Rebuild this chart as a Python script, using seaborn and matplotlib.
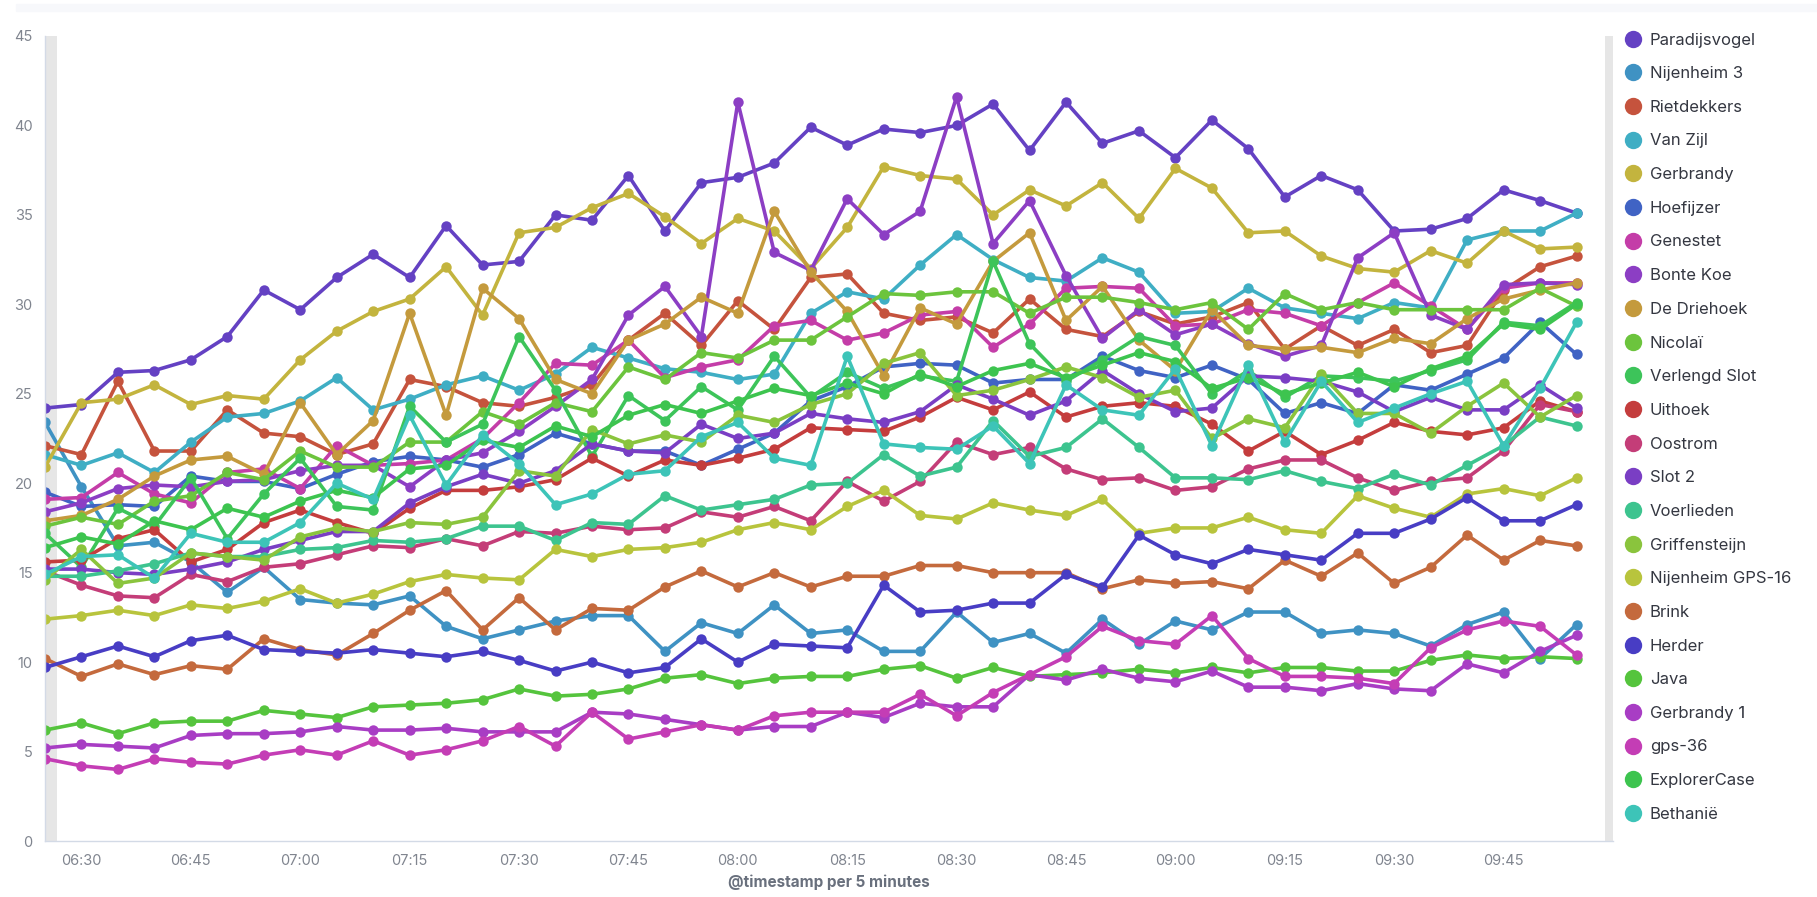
import numpy as np
import pandas as pd
import matplotlib
matplotlib.use("Agg")
import matplotlib.pyplot as plt
import matplotlib.dates as mdates
from matplotlib.lines import Line2D
from matplotlib.patches import Rectangle
import seaborn as sns

sns.set_theme(style="white")
plt.rcParams["font.family"] = ["Inter", "DejaVu Sans"]

# ---------------- data ----------------
start_time = "2021-01-01 06:25"
n_points = 43  # 06:25 .. 09:55, 5-minute buckets

names = ["Paradijsvogel", "Nijenheim 3", "Rietdekkers", "Van Zijl", "Gerbrandy",
         "Hoefijzer", "Genestet", "Bonte Koe", "De Driehoek", "Nicolaï",
         "Verlengd Slot", "Uithoek", "Oostrom", "Slot 2", "Voerlieden",
         "Griffensteijn", "Nijenheim GPS-16", "Brink", "Herder", "Java",
         "Gerbrandy 1", "gps-36", "ExplorerCase", "Bethanië"]

colors = ["#6441C3", "#3F92C3", "#C5533D", "#3FAEC4", "#C3B43E",
          "#4063C4", "#C43DA8", "#8C3EC4", "#C49A3D", "#6CC43D",
          "#3DC45A", "#C43D3D", "#C43D78", "#7A3EC4", "#3DC48F",
          "#8AC43D", "#B8C43D", "#C46A3D", "#483DC4", "#55C43D",
          "#A83DC4", "#C43DB5", "#3DC44F", "#3DC4B8"]

paradijsvogel = [24.2,24.4,26.2,26.3,26.9,28.2,30.8,29.7,31.5,32.8,31.5,34.4,32.2,32.4,35.0,34.7,37.2,34.1,36.8,37.1,
                 37.9,39.9,38.9,39.8,39.6,40.0,41.2,38.6,41.3,39.0,39.7,38.2,40.3,38.7,36.0,37.2,36.4,34.1,34.2,34.8,
                 36.4,35.8,35.1]
nijenheim_3 = [23.4,19.8,16.5,16.7,15.6,13.9,15.3,13.5,13.3,13.2,13.7,12.0,11.3,11.8,12.3,12.6,12.6,10.6,12.2,11.6,
               13.2,11.6,11.8,10.6,10.6,12.8,11.1,11.6,10.5,12.4,11.0,12.3,11.8,12.8,12.8,11.6,11.8,11.6,10.9,12.1,
               12.8,10.2,12.1]
rietdekkers = [22.1,21.6,25.7,21.8,21.8,24.1,22.8,22.6,21.6,22.2,25.8,25.4,24.5,24.3,24.8,25.5,28.0,29.5,27.7,30.2,
               28.6,31.5,31.7,29.5,29.1,29.3,28.4,30.3,28.6,28.2,29.6,28.9,29.3,30.1,27.5,28.8,27.7,28.6,27.3,27.7,
               30.8,32.1,32.7]
van_zijl = [21.6,21.0,21.7,20.6,22.3,23.7,23.9,24.6,25.9,24.1,24.7,25.5,26.0,25.2,26.1,27.6,27.0,26.4,26.2,25.8,
            26.1,29.5,30.7,30.3,32.2,33.9,32.5,31.5,31.3,32.6,31.8,29.5,29.6,30.9,29.8,29.5,29.2,30.1,29.8,33.6,
            34.1,34.1,35.1]
gerbrandy = [20.9,24.5,24.7,25.5,24.4,24.9,24.7,26.9,28.5,29.6,30.3,32.1,29.4,34.0,34.3,35.4,36.2,34.9,33.4,34.8,
             34.1,32.0,34.3,37.7,37.2,37.0,35.0,36.4,35.5,36.8,34.8,37.6,36.5,34.0,34.1,32.7,32.0,31.8,33.0,32.3,
             34.1,33.1,33.2]
hoefijzer = [19.5,18.7,18.8,18.7,20.4,20.1,20.1,19.7,20.5,21.2,21.5,21.3,20.9,21.6,22.8,22.2,21.8,21.8,21.0,21.9,
             22.8,24.6,25.4,26.5,26.7,26.6,25.6,25.8,25.8,27.1,26.3,25.9,26.6,25.8,23.9,24.5,23.9,25.5,25.2,26.1,
             27.0,29.0,27.2]
genestet = [19.1,19.2,20.6,19.4,18.9,20.6,20.8,19.7,22.1,21.0,21.1,21.3,22.5,24.5,26.7,26.6,28.0,25.9,26.5,26.9,
            28.8,29.1,28.0,28.4,29.4,29.6,27.6,28.9,30.9,31.0,30.9,28.8,28.9,29.7,29.5,28.8,30.1,31.2,29.9,28.6,
            30.9,31.2,31.2]
bonte_koe = [18.4,18.9,19.7,19.9,19.8,20.1,20.2,20.7,21.0,21.0,19.8,21.3,21.7,22.9,24.3,25.8,29.4,31.0,28.2,41.3,
             32.9,31.9,35.9,33.9,35.2,41.6,33.4,35.8,31.6,28.1,29.7,28.3,28.9,27.8,27.1,27.7,32.6,34.0,29.4,28.6,
             31.1,31.2,31.1]
de_driehoek = [17.9,18.2,19.1,20.4,21.3,21.5,20.5,24.5,21.6,23.5,29.5,23.8,30.9,29.2,25.8,25.0,28.0,28.9,30.4,29.5,
               35.2,31.8,29.6,26.0,29.8,28.9,32.4,34.0,29.1,31.0,28.0,26.3,29.7,27.7,27.5,27.6,27.3,28.1,27.8,29.2,
               30.3,30.8,31.2]
nicolai = [17.6,18.1,17.7,19.0,19.3,20.6,20.2,21.8,20.9,20.9,22.3,22.3,24.0,23.3,24.5,24.0,26.5,25.8,27.3,27.0,
           28.0,28.0,29.3,30.6,30.5,30.7,30.7,29.5,30.4,30.4,30.1,29.7,30.1,28.6,30.6,29.7,30.1,29.7,29.7,29.7,
           29.7,30.9,29.9]
verlengd_slot = [17.2,15.3,18.6,17.6,20.3,16.9,19.4,21.4,18.7,18.5,24.3,22.3,23.3,28.2,25.2,21.5,24.9,23.5,25.4,24.1,
                 27.1,24.8,26.2,25.3,26.0,25.7,32.4,27.8,25.7,26.9,28.2,27.7,25.0,26.3,24.8,26.0,25.9,25.7,26.3,26.9,
                 29.0,28.8,30.1]
uithoek = [15.6,15.7,16.9,17.4,15.6,16.3,17.8,18.5,17.8,17.2,18.6,19.6,19.6,19.8,20.2,21.4,20.4,21.3,21.0,21.4,
           21.9,23.1,23.0,22.9,23.7,24.8,24.1,25.1,23.7,24.3,24.5,24.3,23.3,21.8,22.9,21.6,22.4,23.4,22.9,22.7,
           23.1,24.6,24.0]
oostrom = [15.1,14.3,13.7,13.6,14.9,14.5,15.3,15.5,16.0,16.5,16.4,16.9,16.5,17.3,17.2,17.6,17.4,17.5,18.4,18.1,
           18.7,17.9,20.1,19.0,20.1,22.3,21.6,22.0,20.8,20.2,20.3,19.6,19.8,20.8,21.3,21.3,20.3,19.6,20.1,20.3,
           21.8,24.4,24.0]
slot_2 = [15.2,15.2,15.0,14.9,15.2,15.6,16.3,16.8,17.3,17.3,18.9,19.8,20.5,20.0,20.7,22.2,21.8,21.7,23.3,22.5,
          22.8,23.9,23.6,23.4,24.0,25.5,24.7,23.8,24.6,26.3,25.0,24.0,24.2,26.0,25.9,25.7,25.1,24.0,24.8,24.1,
          24.1,25.5,24.2]
voerlieden = [14.8,14.8,15.1,15.5,16.1,15.9,15.9,16.3,16.4,16.8,16.7,16.9,17.6,17.6,16.8,17.8,17.7,19.3,18.5,18.8,
              19.1,19.9,20.0,21.6,20.4,20.9,23.5,21.5,22.0,23.6,22.0,20.3,20.3,20.2,20.7,20.1,19.7,20.5,19.9,21.0,
              22.1,23.7,23.2]
griffensteijn = [14.6,16.3,14.4,14.7,16.1,15.9,15.7,17.0,17.5,17.3,17.8,17.7,18.1,20.7,20.4,23.0,22.2,22.7,22.3,23.8,
                 23.4,24.4,25.0,26.7,27.3,24.9,25.2,25.8,26.5,25.9,24.8,25.2,22.5,23.6,23.1,26.1,23.9,23.9,22.8,24.3,
                 25.6,23.7,24.9]
nijenheim_gps16 = [12.4,12.6,12.9,12.6,13.2,13.0,13.4,14.1,13.3,13.8,14.5,14.9,14.7,14.6,16.3,15.9,16.3,16.4,16.7,17.4,
                   17.8,17.4,18.7,19.6,18.2,18.0,18.9,18.5,18.2,19.1,17.2,17.5,17.5,18.1,17.4,17.2,19.3,18.6,18.1,19.4,
                   19.7,19.3,20.3]
brink = [10.2,9.2,9.9,9.3,9.8,9.6,11.3,10.7,10.4,11.6,12.9,14.0,11.8,13.6,11.8,13.0,12.9,14.2,15.1,14.2,
         15.0,14.2,14.8,14.8,15.4,15.4,15.0,15.0,15.0,14.1,14.6,14.4,14.5,14.1,15.7,14.8,16.1,14.4,15.3,17.1,
         15.7,16.8,16.5]
herder = [9.7,10.3,10.9,10.3,11.2,11.5,10.7,10.6,10.5,10.7,10.5,10.3,10.6,10.1,9.5,10.0,9.4,9.7,11.3,10.0,
          11.0,10.9,10.8,14.3,12.8,12.9,13.3,13.3,14.9,14.2,17.1,16.0,15.5,16.3,16.0,15.7,17.2,17.2,18.0,19.2,
          17.9,17.9,18.8]
java = [6.2,6.6,6.0,6.6,6.7,6.7,7.3,7.1,6.9,7.5,7.6,7.7,7.9,8.5,8.1,8.2,8.5,9.1,9.3,8.8,
        9.1,9.2,9.2,9.6,9.8,9.1,9.7,9.2,9.3,9.4,9.6,9.4,9.7,9.4,9.7,9.7,9.5,9.5,10.1,10.4,
        10.2,10.3,10.2]
gerbrandy_1 = [5.2,5.4,5.3,5.2,5.9,6.0,6.0,6.1,6.4,6.2,6.2,6.3,6.1,6.1,6.1,7.2,7.1,6.8,6.5,6.2,
               6.4,6.4,7.2,6.9,7.7,7.5,7.5,9.3,9.0,9.6,9.1,8.9,9.5,8.6,8.6,8.4,8.8,8.5,8.4,9.9,
               9.4,10.6,11.5]
gps_36 = [4.6,4.2,4.0,4.6,4.4,4.3,4.8,5.1,4.8,5.6,4.8,5.1,5.6,6.4,5.3,7.2,5.7,6.1,6.5,6.2,
          7.0,7.2,7.2,7.2,8.2,7.0,8.3,9.3,10.3,12.0,11.2,11.0,12.6,10.2,9.2,9.2,9.1,8.8,10.8,11.8,
          12.3,12.0,10.4]
explorercase = [16.4,17.0,16.6,17.9,17.4,18.6,18.1,19.0,19.6,19.2,20.8,21.0,22.4,22.0,23.2,22.6,23.8,24.4,23.9,24.6,
                25.3,24.9,25.6,25.0,26.1,25.4,26.3,26.7,25.9,26.6,27.3,26.8,25.3,25.9,25.0,25.6,26.2,25.4,26.4,27.1,
                28.9,28.6,30.0]
bethanie = [14.9,15.9,16.0,14.7,17.2,16.7,16.7,17.8,20.0,19.1,23.8,19.9,22.7,21.1,18.8,19.4,20.5,20.7,22.6,23.4,
            21.4,21.0,27.1,22.2,22.0,21.9,23.2,21.1,25.5,24.1,23.8,26.4,22.1,26.6,22.3,25.7,23.4,24.2,25.0,25.7,
            22.1,25.3,29.0]

y_ticks = [0, 5, 10, 15, 20, 25, 30, 35, 40, 45]
x_tick_labels = ["06:30", "06:45", "07:00", "07:15", "07:30", "07:45", "08:00",
                 "08:15", "08:30", "08:45", "09:00", "09:15", "09:30", "09:45"]

values = [paradijsvogel, nijenheim_3, rietdekkers, van_zijl, gerbrandy, hoefijzer, genestet,
          bonte_koe, de_driehoek, nicolai, verlengd_slot, uithoek, oostrom, slot_2, voerlieden,
          griffensteijn, nijenheim_gps16, brink, herder, java, gerbrandy_1, gps_36, explorercase, bethanie]

times = pd.date_range(start_time, periods=n_points, freq="5min")
frames = []
for name, vals in zip(names, values):
    frames.append(pd.DataFrame({"time": times, "value": vals, "series": name}))
df = pd.concat(frames, ignore_index=True)
palette = dict(zip(names, colors))

# ---------------- figure ----------------
W, H = 1817, 897
fig = plt.figure(figsize=(W / 100, H / 100), dpi=100)
fig.patch.set_facecolor("white")
ax = fig.add_axes([45 / W, 1 - 841 / H, (1613 - 45) / W, (841 - 36) / H])

sns.lineplot(data=df, x="time", y="value", hue="series", hue_order=names,
             palette=palette, marker="o", markersize=7.5, markeredgewidth=0,
             linewidth=2.6, legend=False, ax=ax, estimator=None, sort=False)

x0 = pd.Timestamp("2021-01-01 06:25")
x1 = pd.Timestamp("2021-01-01 10:00")
ax.set_xlim(x0, x1)
ax.set_ylim(0, 45)
ax.axvspan(x0, x0 + pd.Timedelta(minutes=1.65), color="#E6E6E6", zorder=0, lw=0)
ax.axvspan(x1 - pd.Timedelta(minutes=1.1), x1, color="#E6E6E6", zorder=0, lw=0)

ax.set_yticks(y_ticks)
ax.set_xticks([pd.Timestamp("2021-01-01 " + t) for t in x_tick_labels])
ax.set_xticklabels(x_tick_labels)
ax.tick_params(axis="both", which="major", length=6, width=1, color="#D3DAE6",
               labelcolor="#80858F", labelsize=10.5, pad=3)
for s in ["top", "right"]:
    ax.spines[s].set_visible(False)
for s in ["left", "bottom"]:
    ax.spines[s].set_color("#D3DAE6")
    ax.spines[s].set_linewidth(1)
ax.set_ylabel("")
ax.set_xlabel("@timestamp per 5 minutes", fontsize=11, fontweight="bold",
              color="#69707D", labelpad=5)
ax.grid(False)

# thin light band at the top of the panel
fig.patches.append(Rectangle((16 / W, 1 - 11 / H), (W - 16) / W, 7 / H,
                             transform=fig.transFigure, color="#F7F8FB", zorder=0))

handles = [Line2D([], [], marker="o", ls="none", markersize=12.5, markeredgewidth=0,
                  color=c) for c in colors]
fig.legend(handles, names, loc="upper left", bbox_to_anchor=(1624.5 / W, 1 - 32.5 / H),
           frameon=False, fontsize=12, labelspacing=1.12, handletextpad=0.52,
           handlelength=1.0, borderaxespad=0, borderpad=0, labelcolor="#343741")

fig.savefig("out.png", dpi=100, facecolor="white")
